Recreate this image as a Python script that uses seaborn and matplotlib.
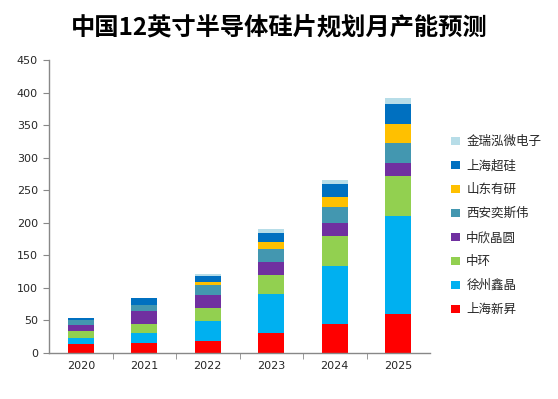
import pandas as pd
import seaborn as sns
import matplotlib.pyplot as plt
from matplotlib.patches import Patch
from matplotlib.ticker import FixedLocator

# 中国12英寸半导体硅片规划月产能预测 (stacked bars)

years = [2020, 2021, 2022, 2023, 2024, 2025]
companies = ['上海新昇', '徐州鑫晶', '中环', '中欣晶圆', '西安奕斯伟', '山东有研', '上海超硅', '金瑞泓微电子']
colors = ['#FF0000', '#00B0F0', '#92D050', '#7030A0', '#4397B0', '#FFC000', '#0070C0', '#B7DDE8']

shanghai_xinsheng = [14, 15, 19, 30, 44, 60]
xuzhou_xinjing = [9, 15, 30, 60, 90, 150]
zhonghuan = [11, 14, 20, 30, 46, 62]
zhongxin = [9, 20, 20, 20, 20, 20]
xian_esw = [7, 10, 15, 20, 25, 30]
shandong_youyan = [0, 0, 5, 10, 15, 30]
shanghai_chaogui = [4, 11, 9, 15, 20, 30]
jinruihong = [0, 0, 3, 5, 5, 10]

series = [shanghai_xinsheng, xuzhou_xinjing, zhonghuan, zhongxin,
          xian_esw, shandong_youyan, shanghai_chaogui, jinruihong]

rows = []
for name, vals in zip(companies, series):
    for y, v in zip(years, vals):
        rows.append({'year': y, 'company': name, 'value': v})
df = pd.DataFrame(rows)

sns.set_style('white')
plt.rcParams['font.family'] = ['Noto Sans CJK SC', 'DejaVu Sans']

fig = plt.figure(figsize=(5.58, 3.99), dpi=100)
ax = fig.add_axes([49 / 558, 1 - 353 / 399, 381 / 558, 293 / 399])

# seaborn stacks the first hue level on top, so feed the order top-down
order = companies[::-1]
palette = dict(zip(companies, colors))
sns.histplot(data=df, x='year', weights='value', hue='company', hue_order=order,
             multiple='stack', discrete=True, shrink=0.41, palette=palette,
             alpha=1, linewidth=0, legend=False, ax=ax)

ax.set_xlim(2019.5, 2025.5)
ax.set_ylim(0, 450)
ax.set_yticks(range(0, 451, 50))
ax.set_xticks(years)
ax.set_xticklabels([str(y) for y in years], fontsize=8, family='DejaVu Sans')
ax.tick_params(axis='x', which='major', length=0, pad=6)
ax.xaxis.set_minor_locator(FixedLocator([y + 0.5 for y in years[:-1]]))
ax.tick_params(axis='x', which='minor', length=4, color='#888888', direction='out', bottom=True)
ax.tick_params(axis='y', length=4, color='#888888', direction='out', left=True, labelsize=8, pad=4)
for lab in ax.get_yticklabels():
    lab.set_family('DejaVu Sans')
ax.set_xlabel('')
ax.set_ylabel('')
for side in ['top', 'right']:
    ax.spines[side].set_visible(False)
for side in ['left', 'bottom']:
    ax.spines[side].set_color('#888888')
    ax.spines[side].set_linewidth(1)

handles = [Patch(facecolor=palette[c], edgecolor='none', label=c) for c in order]
fig.legend(handles=handles, loc='upper left', bbox_to_anchor=(440 / 558, 1 - 124 / 399),
           frameon=False, fontsize=9, handlelength=0.7, handleheight=0.7,
           handletextpad=0.5, labelspacing=0.88)

fig.text(0.5, 1 - 27 / 399, '中国12英寸半导体硅片规划月产能预测', ha='center', va='center',
         fontsize=17.5, fontweight='bold', color='black')

plt.savefig('out.png', dpi=100)
